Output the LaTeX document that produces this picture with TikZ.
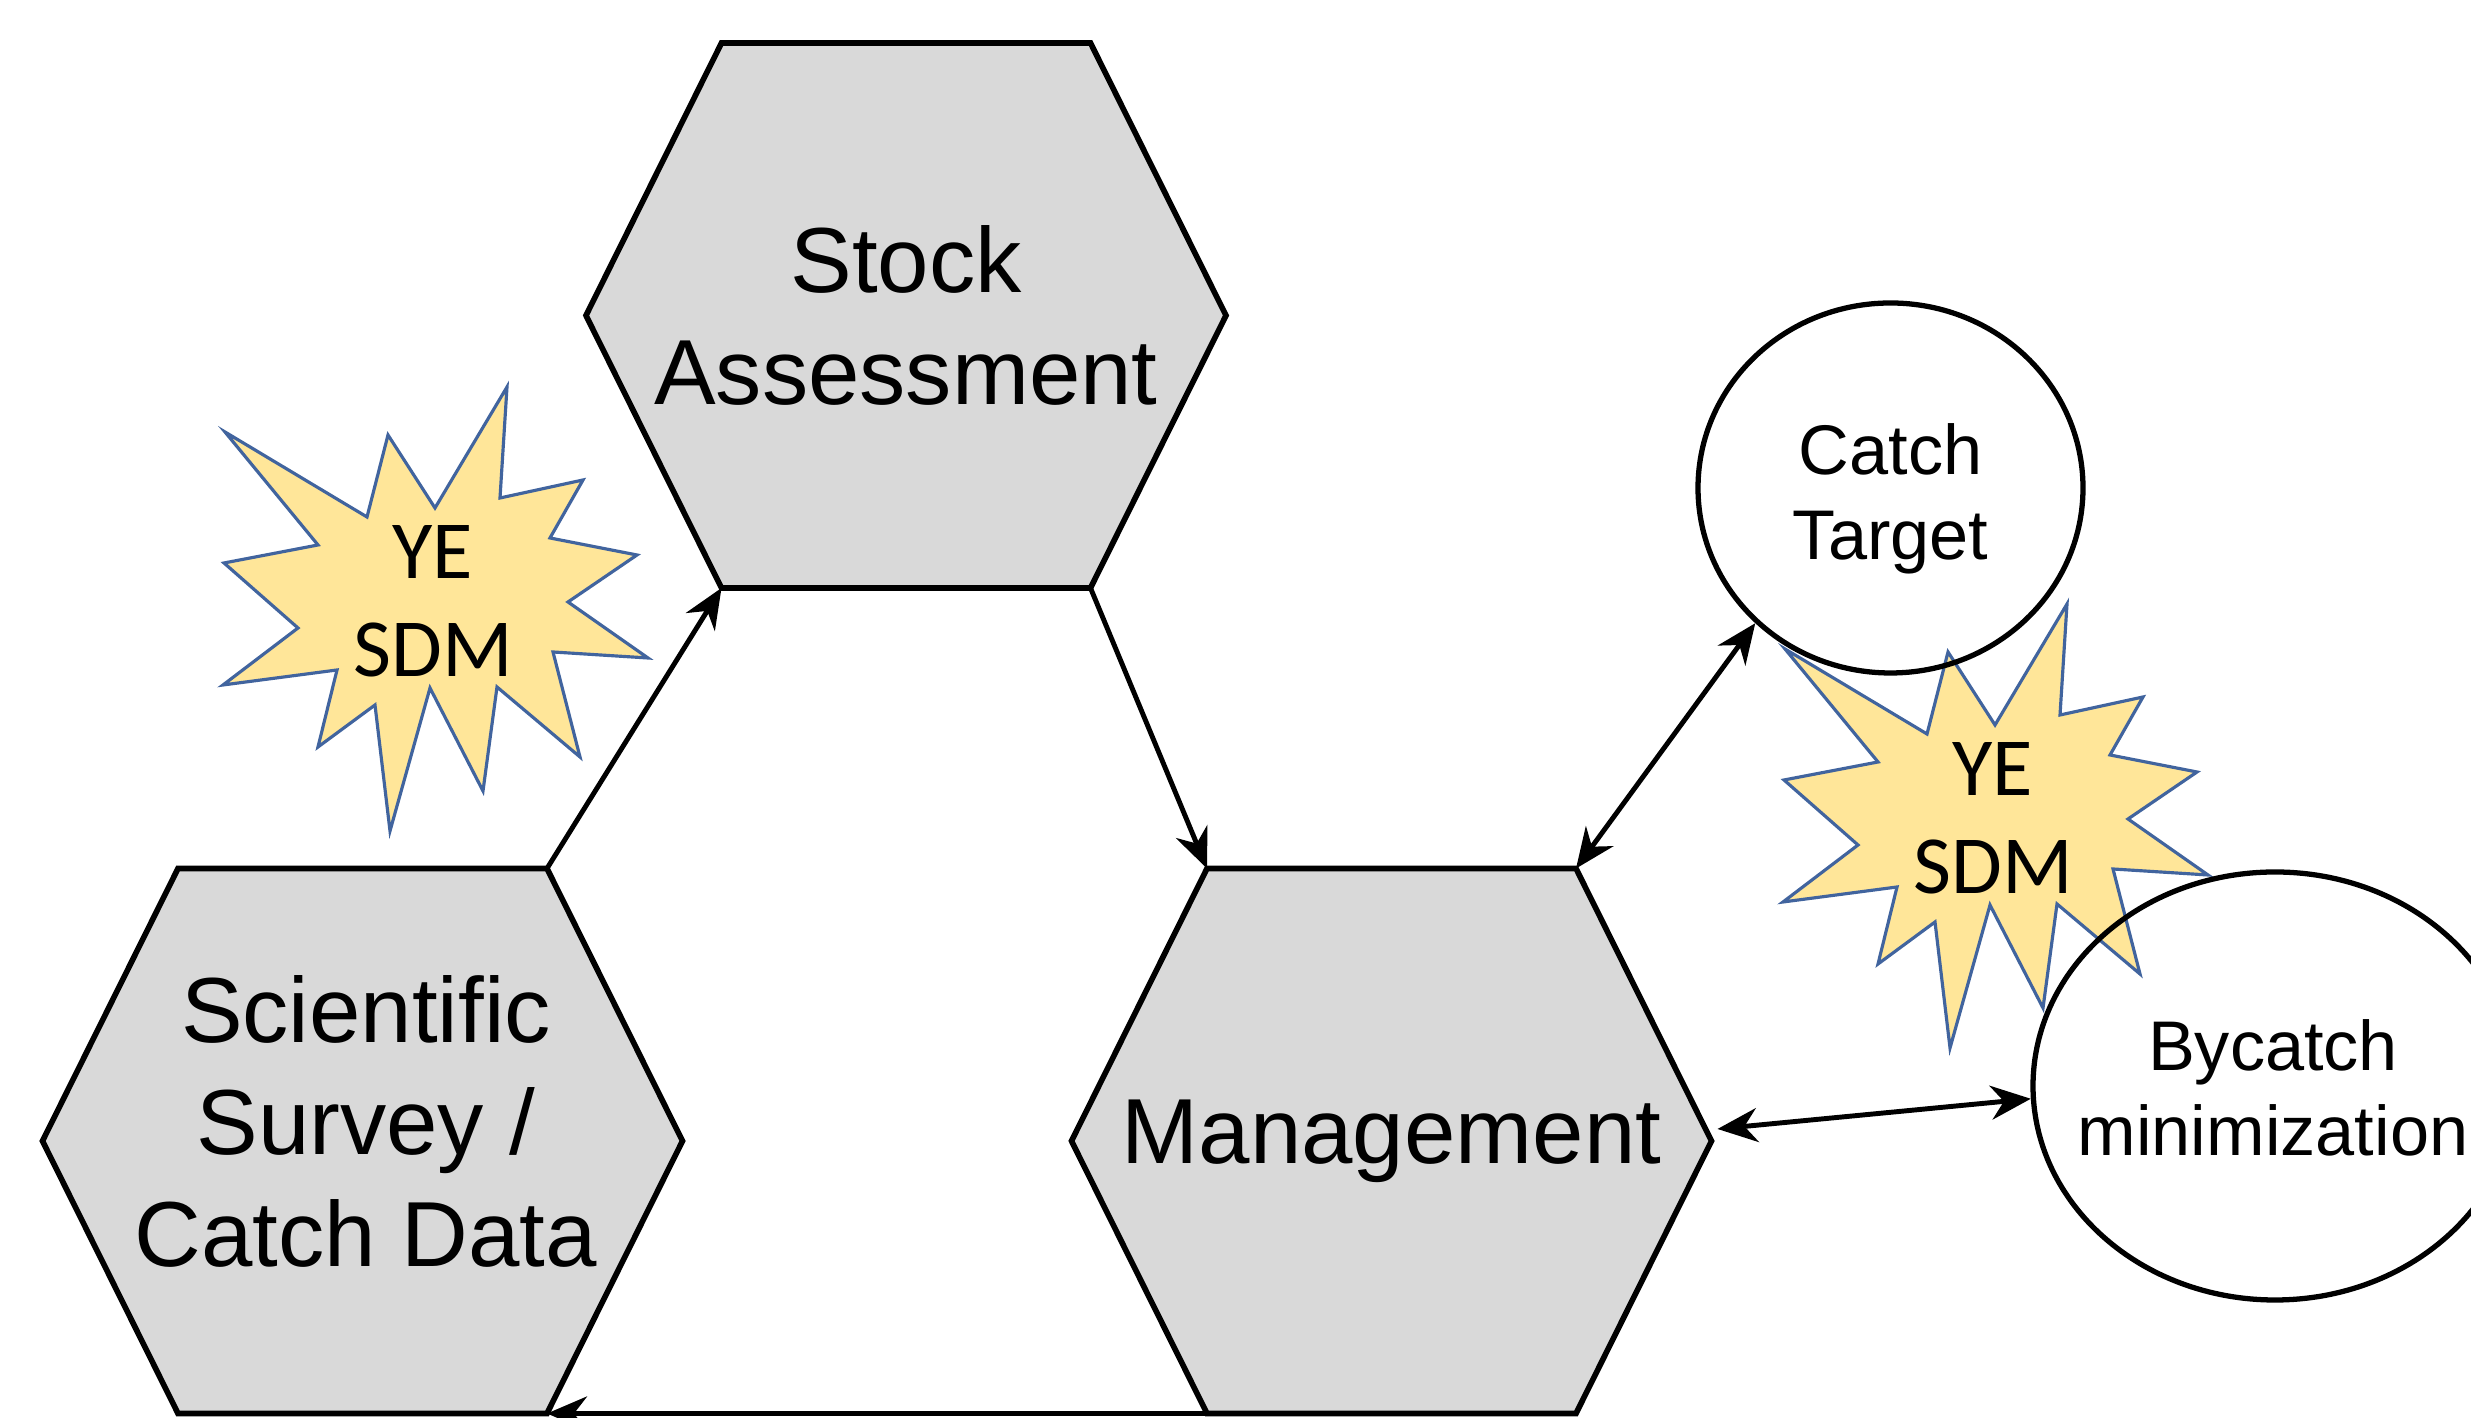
\documentclass[tikz,border=0pt]{standalone}
\usepackage{fontspec}
\setmainfont{Liberation Sans}
\newfontfamily\burstfont{Carlito}
\usepackage{tikz}
\usetikzlibrary{arrows.meta, shapes.geometric}

\definecolor{hexgray}{HTML}{D9D9D9}
\definecolor{burstfill}{HTML}{FFE699}
\definecolor{burstedge}{HTML}{41649E}

\begin{document}
\begin{tikzpicture}[>={Stealth[length=4mm, width=3.4mm, inset=1.3mm]},
  hexa/.style={draw, line width=1.6pt, fill=hexgray},
  hexlbl/.style={align=center, font=\fontsize{26.3}{32}\selectfont, inner sep=0pt},
  oval/.style={draw, ellipse, line width=1.5pt, inner sep=0pt},
  ovallbl/.style={align=center, font=\fontsize{20}{24.2}\selectfont, inner sep=0pt},
  burst/.style={draw=burstedge, fill=burstfill, line width=0.9pt, line join=miter},
  burstlbl/.style={align=center, font=\burstfont\fontsize{23.5}{27.9}\selectfont, inner sep=0pt},
  flow/.style={->, line width=1.4pt},
  flowboth/.style={<->, line width=1.4pt}]

\useasboundingbox (0,0) rectangle (24.71,14.18);

% =============== YE SDM bursts ===============
\foreach \bn/\bx/\by in {burstL/4.33/8.17, burstR/19.93/6.00}{
  \draw[burst, shift={(\bx,\by)}] (-2.08,1.69) -- (-0.66,0.84) -- (-0.45,1.66) -- (0.02,0.93)
    -- (0.74,2.14) -- (0.67,1.03) -- (1.50,1.21) -- (1.17,0.63) -- (2.04,0.46) -- (1.35,-0.01)
    -- (2.15,-0.57) -- (1.20,-0.51) -- (1.47,-1.56) -- (0.64,-0.86) -- (0.50,-1.90) -- (-0.03,-0.87)
    -- (-0.43,-2.30) -- (-0.58,-1.04) -- (-1.15,-1.46) -- (-0.96,-0.69) -- (-2.10,-0.84) -- (-1.35,-0.27)
    -- (-2.09,0.38) -- (-1.15,0.56) -- cycle;
  \node[burstlbl] (\bn) at (\bx,\by) {YE\\SDM};
}

% =============== hexagons ===============
\foreach \n/\cx/\cy in {sa/9.06/11.025, ss/3.625/2.77, mg/13.915/2.77}{
  \draw[hexa] (\cx-1.845,\cy+2.725) coordinate (\n-tl)
    -- (\cx+1.845,\cy+2.725) coordinate (\n-tr)
    -- (\cx+3.2,\cy) coordinate (\n-r)
    -- (\cx+1.845,\cy-2.725) coordinate (\n-br)
    -- (\cx-1.845,\cy-2.725) coordinate (\n-bl)
    -- (\cx-3.2,\cy) coordinate (\n-l) -- cycle;
}
\node[hexlbl] (stock) at (9.06,11.025) {Stock\\Assessment};
\node[hexlbl] (survey) at (3.66,2.965) {Scientific\\Survey /\\Catch Data};
\node[hexlbl] (mgmt) at (13.915,2.77) {Management};

% =============== goals ===============
\node[oval, minimum width=3.85cm, minimum height=3.70cm] (ct) at (18.905,9.30) {};
\node[ovallbl] (ctlbl) at (18.905,9.19) {Catch\\Target};
\node[oval, minimum width=4.84cm, minimum height=4.28cm] (bc) at (22.75,3.32) {};
\node[ovallbl] (bclbl) at (22.73,3.30) {Bycatch\\minimization};

% =============== cycle ===============
\draw[flow] (ss-tr) -- (sa-bl);
\draw[flow] (sa-br) -- (mg-tl);
\draw[flow] (mg-bl) -- (ss-br);
\draw[flowboth] (mg-tr) -- (ct.225);
\draw[flowboth] ([xshift=0.6mm,yshift=1.2mm]mg-r) -- (bc.183);

\end{tikzpicture}
\end{document}
